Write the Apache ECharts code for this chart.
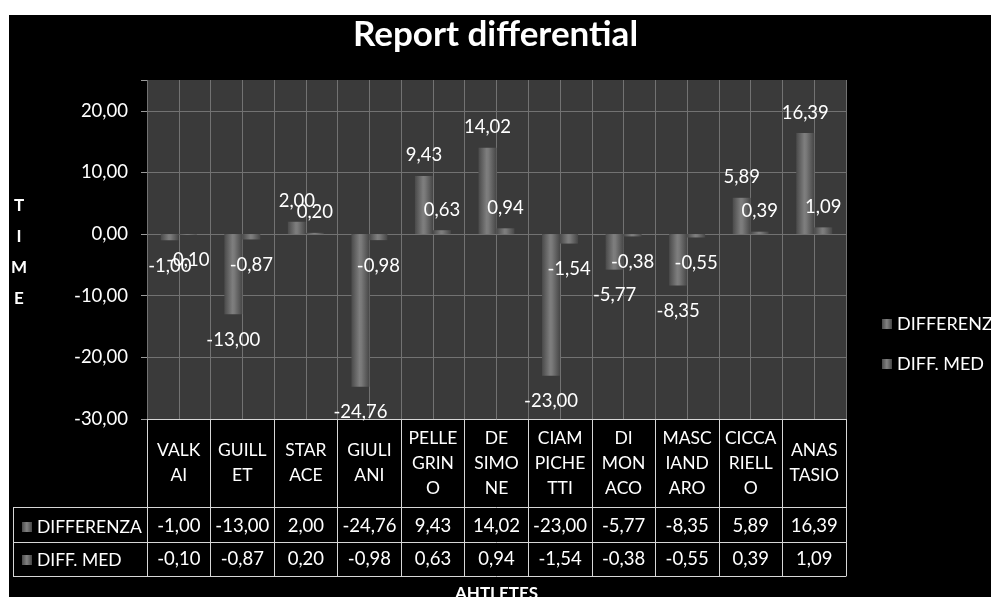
<!DOCTYPE html>
<html>
<head>
<meta charset="utf-8">
<style>
html,body{margin:0;padding:0;background:#fff;}
#chart{width:991px;height:597px;}
</style>
<script src="https://cdn.jsdelivr.net/npm/echarts@6/dist/echarts.min.js"></script>
</head>
<body>
<div id="chart"></div>
<script>
// ---- data ----
const categories = ['VALKAI','GUILLET','STARACE','GIULIANI','PELLEGRINO','DE SIMONE','CIAMPICHETTI','DI MONACO','MASCIANDARO','CICCARIELLO','ANASTASIO'];
const categoryLabels = ['VALK\nAI','GUILL\nET','STAR\nACE','GIULI\nANI','PELLE\nGRIN\nO','DE\nSIMO\nNE','CIAM\nPICHE\nTTI','DI\nMON\nACO','MASC\nIAND\nARO','CICCA\nRIELL\nO','ANAS\nTASIO'];
const seriesNames = ['DIFFERENZA','DIFF. MED'];
const differenza = [-1.00,-13.00,2.00,-24.76,9.43,14.02,-23.00,-5.77,-8.35,5.89,16.39];
const diffMed = [-0.10,-0.87,0.20,-0.98,0.63,0.94,-1.54,-0.38,-0.55,0.39,1.09];
const yTicks = [-30,-20,-10,0,10,20];

const FONT = 'Lato, "Open Sans", sans-serif';
const fmt = v => v.toFixed(2).replace('.', ',');
const NUM_SIZE = 18.5;
const TXT_SIZE = 17.5;

const barColor = new echarts.graphic.LinearGradient(0,0,1,0,[
  {offset:0,color:'#4a4a4a'},{offset:0.45,color:'#7e7e7e'},{offset:0.55,color:'#7a7a7a'},{offset:1,color:'#464646'}
]);

function makeData(arr){
  return arr.map(v => ({value:v, label:{position: v >= 0 ? 'top' : 'bottom', distance: v >= 0 ? 11 : 16}}));
}

const chart = echarts.init(document.getElementById('chart'), null, {renderer:'canvas'});
const TABLE_LINE = '#d6d6d6';
const GRID_LINE = '#727272';

const option = {
  backgroundColor:'#ffffff',
  animation:false,
  textStyle:{fontFamily:FONT},
  title:{
    text:'Report differential', left:'center', top:12,
    textStyle:{color:'#ffffff', fontSize:35, fontWeight:'bold', fontFamily:FONT}
  },
  legend:[{
    orient:'vertical', left:877, top:309, itemGap:20, itemWidth:10, itemHeight:10,
    icon:'rect', data:seriesNames,
    textStyle:{color:'#ffffff', fontSize:18, lineHeight:20, fontFamily:FONT}
  },{
    orient:'vertical', left:17, top:512, itemGap:13, itemWidth:10, itemHeight:10,
    icon:'rect', data:seriesNames, selectedMode:false,
    textStyle:{color:'#ffffff', fontSize:17.5, lineHeight:20, fontFamily:FONT}
  }],
  grid:{
    left:147, right:145, top:80, bottom:178,
    outerBoundsMode:'none', containLabel:false,
    show:true, backgroundColor:'#3a3a3a', borderWidth:0
  },
  xAxis:[{
    type:'category', data:categories, position:'bottom',
    axisLine:{show:true, onZero:false, lineStyle:{color:TABLE_LINE, width:1}},
    axisTick:{show:true, interval:0, length:88, lineStyle:{color:TABLE_LINE}},
    axisLabel:{
      interval:0, color:'#ffffff', fontSize:TXT_SIZE, lineHeight:25, margin:44,
      verticalAlign:'middle', fontFamily:FONT,
      formatter:(v, i) => categoryLabels[i]
    },
    splitLine:{show:false}
  },{
    type:'category', data:categories, position:'bottom', offset:88,
    axisLine:{show:true, onZero:false, lineStyle:{color:TABLE_LINE, width:1}},
    axisTick:{show:true, interval:0, length:35, lineStyle:{color:TABLE_LINE}},
    axisLabel:{
      interval:0, color:'#ffffff', fontSize:NUM_SIZE, margin:19, verticalAlign:'middle', fontFamily:FONT,
      formatter:(v, i) => fmt(differenza[i])
    },
    splitLine:{show:false}
  },{
    type:'category', data:categories, position:'bottom', offset:123,
    axisLine:{show:true, onZero:false, lineStyle:{color:TABLE_LINE, width:1}},
    axisTick:{show:true, interval:0, length:34, lineStyle:{color:TABLE_LINE}},
    axisLabel:{
      interval:0, color:'#ffffff', fontSize:NUM_SIZE, margin:17, verticalAlign:'middle', fontFamily:FONT,
      formatter:(v, i) => fmt(diffMed[i])
    },
    splitLine:{show:false}
  },{
    type:'category', data:categories, position:'bottom', offset:157,
    axisLine:{show:true, onZero:false, lineStyle:{color:TABLE_LINE, width:1}},
    axisTick:{show:false}, axisLabel:{show:false}, splitLine:{show:false},
    name:'AHTLETES', nameLocation:'middle', nameGap:9,
    nameTextStyle:{color:'#ffffff', fontSize:17, fontWeight:'bold', fontFamily:FONT}
  },{
    type:'value', min:0, max:categories.length, interval:0.5, position:'top',
    axisLine:{show:false, onZero:false}, axisTick:{show:false}, axisLabel:{show:false},
    splitLine:{show:true, lineStyle:{color:GRID_LINE, width:1}}
  }],
  yAxis:{
    type:'value', min:-30, max:25, interval:10,
    axisLine:{show:false},
    axisTick:{show:true, length:6, lineStyle:{color:'#9a9a9a'}},
    axisLabel:{
      color:'#ffffff', fontSize:NUM_SIZE, margin:19, fontFamily:FONT,
      formatter:v => (yTicks.indexOf(v) >= 0 ? fmt(v) : '')
    },
    splitLine:{show:true, showMaxLine:false, lineStyle:{color:GRID_LINE, width:1}}
  },
  series:[{
    name:seriesNames[0], type:'bar', xAxisIndex:0, barWidth:18, barGap:'0%',
    data:makeData(differenza),
    itemStyle:{color:barColor},
    label:{show:true, color:'#ffffff', fontSize:NUM_SIZE, fontFamily:FONT, formatter:p => fmt(p.value)}
  },{
    name:seriesNames[1], type:'bar', xAxisIndex:0, barWidth:18, barGap:'0%',
    data:makeData(diffMed),
    itemStyle:{color:barColor},
    label:{show:true, color:'#ffffff', fontSize:NUM_SIZE, fontFamily:FONT, formatter:p => fmt(p.value)}
  }],
  graphic:[
    {type:'rect', z:-100, silent:true, shape:{x:9, y:15, width:982, height:582}, style:{fill:'#000000'}},
    {type:'text', silent:true, x:19, y:252, style:{text:'T\nI\nM\nE', fill:'#ffffff', font:'bold 17px Lato, sans-serif', lineHeight:31, align:'center', verticalAlign:'middle'}},
    {type:'line', silent:true, shape:{x1:13, y1:507.5, x2:147, y2:507.5}, style:{stroke:TABLE_LINE, lineWidth:1}},
    {type:'line', silent:true, shape:{x1:13, y1:542.5, x2:147, y2:542.5}, style:{stroke:TABLE_LINE, lineWidth:1}},
    {type:'line', silent:true, shape:{x1:13, y1:576.5, x2:147, y2:576.5}, style:{stroke:TABLE_LINE, lineWidth:1}},
    {type:'line', silent:true, shape:{x1:13.5, y1:507, x2:13.5, y2:577}, style:{stroke:TABLE_LINE, lineWidth:1}}
  ]
};
chart.setOption(option);
</script>
</body>
</html>
